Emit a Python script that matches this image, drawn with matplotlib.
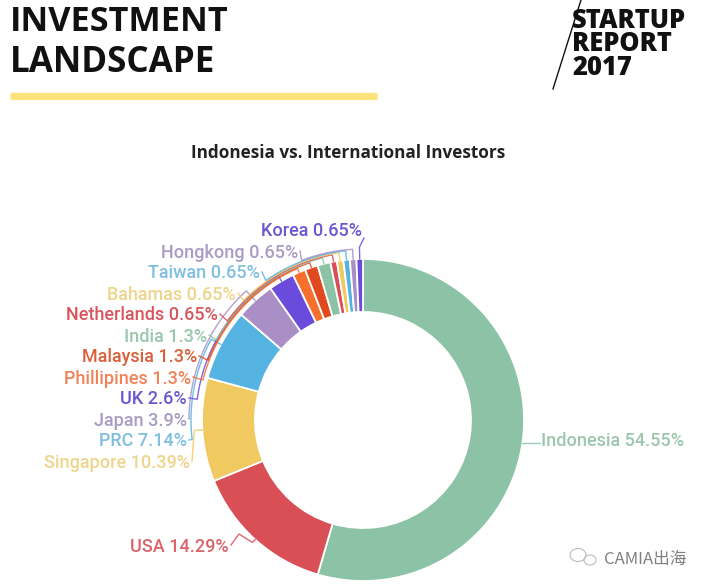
import numpy as np
import matplotlib
matplotlib.use("Agg")
import matplotlib.pyplot as plt
from matplotlib.patches import Ellipse

countries = ["Indonesia", "USA", "Singapore", "PRC", "Japan", "UK", "Phillipines", "Malaysia",
             "India", "Netherlands", "Bahamas", "Taiwan", "Hongkong", "Korea"]
shares = [54.55, 14.29, 10.39, 7.14, 3.9, 2.6, 1.3, 1.3, 1.3, 0.65, 0.65, 0.65, 0.65, 0.65]
share_labels = ["54.55%", "14.29%", "10.39%", "7.14%", "3.9%", "2.6%", "1.3%", "1.3%", "1.3%",
                "0.65%", "0.65%", "0.65%", "0.65%", "0.65%"]

slice_colors = ["#8cc2a6", "#da4f55", "#f0c960", "#55b3e2", "#a98fc6", "#6a4bdc", "#f5702c",
                "#e14a1e", "#8cc2a6", "#da4f55", "#f0c960", "#55b3e2", "#a98fc6", "#6a4bdc"]
text_colors = ["#9cc7ae", "#d9656a", "#efd48c", "#7fbfe0", "#a99cc4", "#6a58d0", "#f0835a",
               "#d9603a", "#9cc7ae", "#d9565f", "#efd48c", "#7fbfe0", "#a99cc4", "#6a58d0"]

# right end of each label in image pixels
label_x = [684, 229, 190, 187, 187, 187, 191, 197, 207, 218, 236, 260, 298, 362]
label_y = [439, 545, 461, 440, 419, 398, 377, 356, 335, 314, 293, 272, 251, 230]
# how far the leader runs outside the ring
leader_gap = [2, 4, 8, 11, 13, 6, 4, 5, 6, 7, 8, 9, 10, 12]

W, H = 712, 588
cx, cy, R, r_in = 363, 588 - 420, 161, 108

fig = plt.figure(figsize=(7.12, 5.88), dpi=100)
ax = fig.add_axes([0, 0, 1, 1])
ax.set_xlim(0, W)
ax.set_ylim(0, H)
ax.axis("off")


def py(y):
    return H - y


wedges, _ = ax.pie(shares, colors=slice_colors, startangle=90, counterclock=False, center=(cx, cy),
                   radius=R, frame=False,
                   wedgeprops=dict(width=R - r_in, edgecolor="white", linewidth=1.3))
ax.set_xlim(0, W)
ax.set_ylim(0, H)
ax.set_aspect("auto")

for i, w in enumerate(wedges):
    mid = np.radians((w.theta1 + w.theta2) / 2)
    lx, ly = label_x[i], py(label_y[i])
    x0, y0 = cx + R * np.cos(mid), cy + R * np.sin(mid)
    if i == 0:
        # short flat leader, stops at the start of the text
        xs, ys = [x0, 540], [y0, y0]
    elif i == 1:
        rad = R + leader_gap[i]
        xs = [x0, cx + rad * np.cos(mid), 239, lx + 2]
        ys = [y0, cy + rad * np.sin(mid), py(534), ly]
    else:
        end = np.arctan2(ly - cy, lx - cx)
        if end < -np.pi / 2:
            end += 2 * np.pi
        if mid < 0:
            mid += 2 * np.pi
        rad = R + leader_gap[i]
        arc = np.linspace(mid, end, 40) if 2 < i < 13 else np.array([mid])
        xs = [x0] + list(cx + rad * np.cos(arc)) + [lx + 2]
        ys = [y0] + list(cy + rad * np.sin(arc)) + [ly - 8 if i == 13 else ly]
    ax.plot(xs, ys, color=slice_colors[i], lw=1.0, alpha=0.85, solid_joinstyle="round", zorder=1)
    ax.text(lx, ly - 1.5, f"{countries[i]} {share_labels[i]}", ha="right", va="center", color=text_colors[i],
            fontsize=13, family="Roboto", weight="medium")

# page furniture
ax.text(10, py(22), "INVESTMENT", fontsize=24.7, family="Open Sans", weight="bold", color="#111111",
        va="center", ha="left")
ax.text(10, py(63), "LANDSCAPE", fontsize=25.2, family="Open Sans", weight="bold", color="#111111",
        va="center", ha="left")
ax.plot([10, 377], [py(95.5), py(95.5)], color="#fbe27a", lw=5.2, solid_capstyle="butt")

ax.plot([581, 553], [py(0), py(89)], color="#111111", lw=1.0)
for txt, y in zip(["STARTUP", "REPORT", "2017"], [20.5, 44, 68]):
    ax.text(572, py(y), txt, fontsize=18.4, family="Open Sans", weight="heavy", color="#111111",
            va="center", ha="left")

ax.text(348, py(153), "Indonesia vs. International Investors", fontsize=12.3, family="Open Sans",
        weight="bold", color="#222222", ha="center", va="center")

ax.text(604, py(559), "CAMIA出海", fontsize=12, family=["Noto Sans CJK SC", "DejaVu Sans"], color="#808080",
        va="center", ha="left")
ax.add_patch(Ellipse((578, py(555)), 16, 13, fill=False, ec="#bbbbbb", lw=0.8))
ax.add_patch(Ellipse((590, py(560)), 12, 10, fill=False, ec="#bbbbbb", lw=0.8))

fig.savefig("out.png", dpi=100)
